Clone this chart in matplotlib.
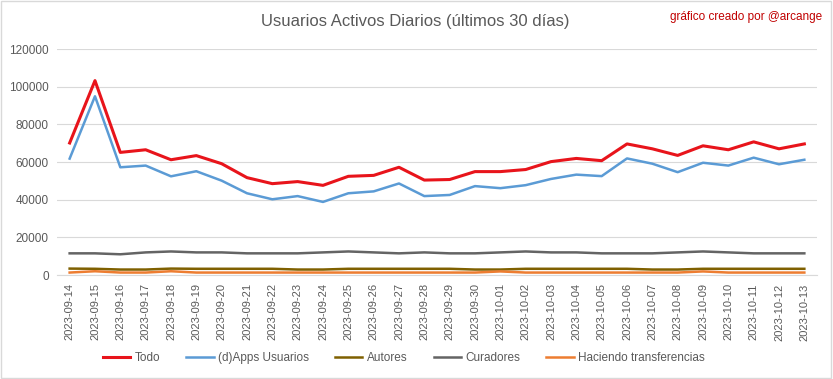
import matplotlib
matplotlib.use("Agg")
import matplotlib.pyplot as plt
from matplotlib.patches import Rectangle

plt.rcParams['font.family'] = ['Liberation Sans', 'DejaVu Sans']

dates = ["2023-09-14", "2023-09-15", "2023-09-16", "2023-09-17", "2023-09-18", "2023-09-19",
         "2023-09-20", "2023-09-21", "2023-09-22", "2023-09-23", "2023-09-24", "2023-09-25",
         "2023-09-26", "2023-09-27", "2023-09-28", "2023-09-29", "2023-09-30", "2023-10-01",
         "2023-10-02", "2023-10-03", "2023-10-04", "2023-10-05", "2023-10-06", "2023-10-07",
         "2023-10-08", "2023-10-09", "2023-10-10", "2023-10-11", "2023-10-12", "2023-10-13"]

todo = [70100, 103200, 65100, 66500, 61200, 63400, 59100, 51700, 48500, 49600,
        47600, 52400, 52900, 57200, 50400, 50700, 54900, 54900, 56000, 60200,
        61900, 60700, 69600, 67000, 63500, 68600, 66500, 70700, 67000, 69600]

dapps = [61800, 94900, 57200, 58100, 52400, 55100, 50100, 43400, 40200, 41900,
         38800, 43400, 44400, 48600, 41900, 42500, 47200, 46100, 47700, 51000,
         53300, 52500, 61900, 59100, 54600, 59600, 58100, 62300, 58800, 61200]

autores = [3400, 3300, 2900, 2900, 3400, 3300, 3300, 3300, 3300, 2900,
           2900, 3300, 3300, 3300, 3300, 3300, 2900, 2900, 3300, 3300,
           3300, 3300, 3300, 2900, 2900, 3300, 3300, 3300, 3300, 3300]

curadores = [11500, 11500, 11000, 12000, 12500, 12000, 12000, 11500, 11500, 11500,
             12000, 12500, 12000, 11500, 12000, 11500, 11500, 12000, 12500, 12000,
             12000, 11500, 11500, 11500, 12000, 12500, 12000, 11500, 11500, 11500]

transfer = [1300, 2000, 1300, 1300, 2000, 1300, 1300, 1300, 1300, 1300,
            1300, 1300, 1300, 1300, 1300, 1300, 1300, 1900, 1300, 1300,
            1300, 1300, 1300, 1300, 1300, 1900, 1300, 1300, 1300, 1300]

series = [
    ("Todo", todo, "#E8141B", 2.2),
    ("(d)Apps Usuarios", dapps, "#5B9BD5", 1.8),
    ("Autores", autores, "#7F6000", 1.8),
    ("Curadores", curadores, "#646464", 1.8),
    ("Haciendo transferencias", transfer, "#ED7D31", 1.8),
]

fig = plt.figure(figsize=(8.33, 3.79), dpi=100)
ax = fig.add_axes([0.0684, 0.2744, 0.9124, 0.5963])

x = list(range(len(dates)))
handles = []
for name, vals, color, lw in series:
    h, = ax.plot(x, vals, color=color, linewidth=lw, label=name, solid_joinstyle='round')
    handles.append(h)

ax.set_xlim(-0.5, len(dates) - 0.5)
ax.set_ylim(0, 120000)
ax.set_yticks(range(0, 120001, 20000))
ax.set_xticks(x)
ax.set_xticklabels(dates, rotation=90, fontsize=8, color="#595959")
ax.tick_params(axis='y', labelsize=8.5, labelcolor="#595959", length=0, pad=6)
ax.tick_params(axis='x', length=0, pad=6)
ax.grid(axis='y', color="#D9D9D9", linewidth=0.8)
ax.set_axisbelow(True)
for s in ['top', 'right', 'left']:
    ax.spines[s].set_visible(False)
ax.spines['bottom'].set_color("#D9D9D9")
ax.spines['bottom'].set_linewidth(0.8)

fig.text(0.498, 0.942, "Usuarios Activos Diarios (últimos 30 días)", ha='center', va='center',
         fontsize=12, color="#595959")
fig.text(0.987, 0.955, "gráfico creado por @arcange", ha='right', va='center',
         fontsize=8.5, color="#C00000")

fig.legend(handles=handles, loc='center', bbox_to_anchor=(0.485, 0.055), ncol=5,
           frameon=False, fontsize=8.5, handlelength=2.3, columnspacing=2.2,
           handletextpad=0.4, labelcolor="#595959")

fig.patches.append(Rectangle((0.001, 0.002), 0.997, 0.996, transform=fig.transFigure,
                             fill=False, edgecolor="#D9D9D9", linewidth=1))

fig.savefig("out.png", dpi=100)
